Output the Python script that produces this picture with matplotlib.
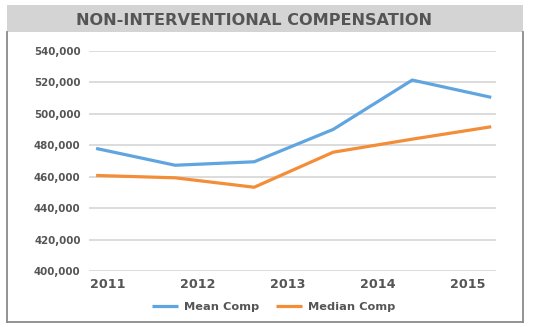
import matplotlib
matplotlib.use("Agg")
import matplotlib.pyplot as plt
from matplotlib.patches import Rectangle
from matplotlib.lines import Line2D
import numpy as np

title = "NON-INTERVENTIONAL COMPENSATION"
years = ["2011", "2012", "2013", "2014", "2015"]
mean_comp = [478000, 467300, 469500, 490100, 521500, 510500]
median_comp = [460800, 459300, 453300, 475600, 483900, 491800]
series_names = ["Mean Comp", "Median Comp"]
yticks = [400000, 420000, 440000, 460000, 480000, 500000, 520000, 540000]

W, H = 545, 327
fig = plt.figure(figsize=(W / 100, H / 100), dpi=100)
fig.patch.set_facecolor("white")

txt = "#555555"
fam = ["DejaVu Sans"]

# banner
fig.patches.append(Rectangle((7 / W, 1 - 32 / H), (523 - 7) / W, 27 / H,
                             transform=fig.transFigure, facecolor="#d4d4d4",
                             edgecolor="none", zorder=0))
fig.text(254 / W, 1 - 19 / H, title, ha="center", va="center_baseline",
         fontsize=11.6, fontweight="bold", color=txt, family=fam)
# frame
fc = "#8a8a8a"
for xs, ys in [([7, 7], [32, 322]), ([523, 523], [32, 322]), ([7, 523], [322, 322])]:
    fig.lines.append(Line2D([x / W for x in xs], [1 - y / H for y in ys],
                            transform=fig.transFigure, color=fc, lw=1.3))

ax = fig.add_axes([89 / W, 1 - 271 / H, (496 - 89) / W, (271 - 51) / H])
x = np.arange(len(mean_comp))
ax.plot(x, mean_comp, color="#60a5e0", lw=2.3, solid_capstyle="butt", zorder=3,
        label=series_names[0])
ax.plot(x, median_comp, color="#f38d38", lw=2.3, solid_capstyle="butt", zorder=3,
        label=series_names[1])
ax.set_xlim(-0.09, 5.06)
ax.set_ylim(400000, 540000)
ax.set_yticks(yticks)
ax.set_yticklabels([f"{v:,}" for v in yticks], fontsize=7.4, fontweight="bold",
                   color=txt, family=fam)
ax.set_xticks(np.linspace(0.15, 4.70, len(years)))
ax.set_xticklabels(years, fontsize=9.2, fontweight="bold", color=txt, family=fam)
ax.tick_params(axis="both", length=0)
ax.tick_params(axis="y", pad=6)
ax.tick_params(axis="x", pad=5)
ax.grid(axis="y", color="#d9d9d9", lw=1.3)
ax.set_axisbelow(True)
for s in ax.spines.values():
    s.set_visible(False)

leg = fig.legend(loc="center", bbox_to_anchor=(273.5 / W, 1 - 307 / H), ncol=2,
                 frameon=False, handlelength=2.3, handletextpad=0.5,
                 columnspacing=1.5,
                 prop={"family": fam, "weight": "bold", "size": 8.2})
for t in leg.get_texts():
    t.set_color(txt)

fig.savefig("out.png", dpi=100)
